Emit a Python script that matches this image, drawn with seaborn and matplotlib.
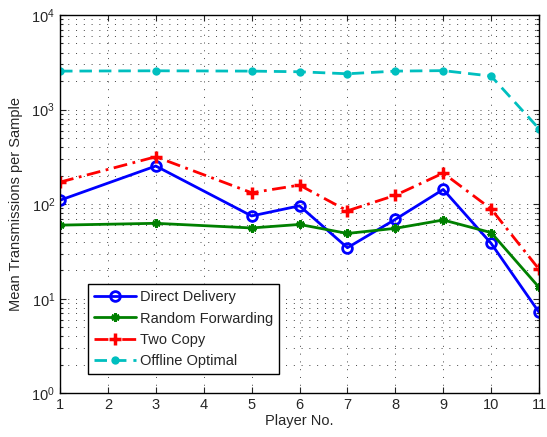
import matplotlib
matplotlib.use("Agg")
import matplotlib.pyplot as plt
import matplotlib.ticker as mticker
import seaborn as sns
import pandas as pd

players = [1, 3, 5, 6, 7, 8, 9, 10, 11]
direct_delivery = [110, 253, 75, 96, 34.6, 69, 143, 38.5, 7.2]
random_forwarding = [60, 62.7, 56, 61, 49, 55.5, 68, 50, 13.2]
two_copy = [171, 317, 132, 159, 85, 124, 213, 89, 20.5]
offline_optimal = [2550, 2570, 2550, 2510, 2390, 2550, 2580, 2260, 627]

series = [
    ("Direct Delivery", direct_delivery),
    ("Random Forwarding", random_forwarding),
    ("Two Copy", two_copy),
    ("Offline Optimal", offline_optimal),
]
styles = {
    "Direct Delivery": dict(color="#0000ff", linestyle="-", marker="o",
                            markerfacecolor="none", markersize=7, markeredgewidth=2),
    "Random Forwarding": dict(color="#008000", linestyle="-", marker=(6, 2, 0),
                              markersize=6, markeredgewidth=2),
    "Two Copy": dict(color="#ff0000", linestyle=(0, (5, 2, 1, 2)), marker="+",
                     markersize=9, markeredgewidth=2.5),
    "Offline Optimal": dict(color="#00bfbf", linestyle=(0, (4.5, 2.5)), marker="o",
                            markersize=6, markeredgewidth=0),
}

sns.set_style("ticks")
plt.rcParams["font.family"] = ["Liberation Sans", "DejaVu Sans"]
plt.rcParams["mathtext.default"] = "regular"
plt.rcParams["font.size"] = 10.5

fig = plt.figure(figsize=(5.47, 4.37), dpi=100)
ax = fig.add_axes([0.1097, 0.1, 0.8757, 0.8657])

for name, vals in series:
    df = pd.DataFrame({"player": players, "value": vals})
    st = styles[name]
    sns.lineplot(data=df, x="player", y="value", ax=ax, label=name,
                 color=st["color"], linewidth=2, sort=False,
                 marker=st["marker"], markersize=st["markersize"],
                 markerfacecolor=st.get("markerfacecolor", st["color"]),
                 markeredgecolor=st["color"], markeredgewidth=st["markeredgewidth"])
    ax.lines[-1].set_linestyle(st["linestyle"])

ax.set_yscale("log")
ax.set_ylim(1, 1e4)
ax.set_xlim(1, 11)
ax.set_xticks(range(1, 12))
ax.yaxis.set_major_locator(mticker.LogLocator(base=10, numticks=10))
ax.yaxis.set_minor_locator(mticker.LogLocator(base=10, subs=range(2, 10), numticks=20))
ax.yaxis.set_minor_formatter(mticker.NullFormatter())

grid_kw = dict(linestyle=(0, (1, 7)), color="#444444", linewidth=0.7)
ax.grid(True, which="major", axis="both", **grid_kw)
ax.grid(True, which="minor", axis="y", **grid_kw)

ax.tick_params(which="both", direction="in", top=True, right=True, labelsize=10.5, width=0.8)
ax.tick_params(which="major", length=4)
ax.tick_params(which="minor", length=2)
for sp in ax.spines.values():
    sp.set_linewidth(1)
    sp.set_color("black")

ax.set_xlabel("Player No.", fontsize=10.5, labelpad=1)
ax.set_ylabel("Mean Transmissions per Sample", fontsize=10.5, labelpad=6)

leg = ax.legend(loc="lower left", bbox_to_anchor=(0.058, 0.051), fontsize=10.5,
                frameon=True, fancybox=False, edgecolor="black", framealpha=1,
                borderaxespad=0, handlelength=2.9, labelspacing=0.5,
                borderpad=0.4, handletextpad=0.3)
leg.get_frame().set_linewidth(1)

fig.savefig("out.png", dpi=100)
